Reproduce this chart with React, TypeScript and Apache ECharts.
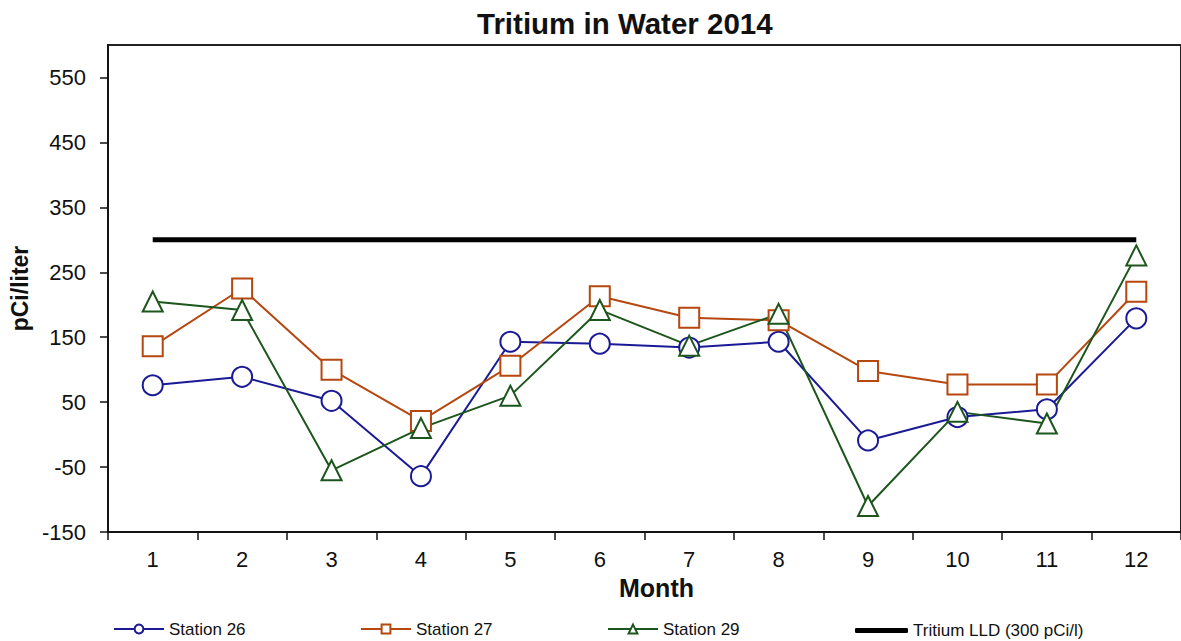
import React, { useEffect, useRef } from "react";
import * as echarts from "echarts";

const months = ["1", "2", "3", "4", "5", "6", "7", "8", "9", "10", "11", "12"];
const station26 = [76, 89, 52, -64, 143, 140, 134, 143, -9, 27, 39, 179];
const station27 = [136, 225, 100, 21, 106, 213, 180, 176, 98, 77, 77, 220];
const station29 = [205, 192, -55, 10, 60, 192, 137, 186, -110, 35, 17, 276];
const lld = [300, 300, 300, 300, 300, 300, 300, 300, 300, 300, 300, 300];
const yTicks = [-150, -50, 50, 150, 250, 350, 450, 550];

const FONT = "'Liberation Sans', Arial, sans-serif";
const C26 = "#1a1a96";
const C27 = "#b5470f";
const C29 = "#1c561c";

export default function App() {
  const ref = useRef<HTMLDivElement>(null);
  useEffect(() => {
    if (!ref.current) return;
    const chart = echarts.init(ref.current, null, { renderer: "svg" });
    const legendBase = (name: string, left: number) => ({
      data: [name],
      left,
      top: 618.5,
      orient: "horizontal",
      itemWidth: 50,
      itemHeight: 11,
      padding: 2,
      textStyle: { fontFamily: FONT, fontSize: 17, color: "#111" },
      selectedMode: false,
    });
    const markerSeries = (name: string, data: number[], color: string, symbol: string) => ({
      name,
      type: "line",
      data,
      symbol,
      symbolSize: 20,
      showAllSymbol: true,
      lineStyle: { color, width: 2 },
      itemStyle: { color: "#fff", borderColor: color, borderWidth: 2 },
      z: 3,
    });
    chart.setOption({
      animation: false,
      backgroundColor: "#fff",
      title: {
        text: "Tritium in Water 2014",
        left: 472,
        top: 3,
        textStyle: { fontFamily: FONT, fontSize: 29.5, fontWeight: "bold", color: "#111" },
      },
      legend: [
        legendBase("Station 26", 111),
        legendBase("Station 27", 358),
        legendBase("Station 29", 605),
        {
          data: [{ name: "Tritium LLD (300 pCi/l)", icon: "roundRect" }],
          left: 853,
          top: 620,
          padding: 2,
          itemWidth: 53,
          itemHeight: 5,
          textStyle: { fontFamily: FONT, fontSize: 17, color: "#111" },
          selectedMode: false,
        },
      ],
      grid: {
        left: 108,
        top: 45,
        width: 1080,
        height: 487,
        show: true,
        borderColor: "#222",
        borderWidth: 2,
        backgroundColor: "transparent",
      },
      xAxis: {
        type: "category",
        data: months,
        boundaryGap: true,
        name: "Month",
        nameLocation: "middle",
        nameGap: 43,
        nameTextStyle: { fontFamily: FONT, fontSize: 25, fontWeight: "bold", color: "#111", padding: [0, 0, 0, 24] },
        axisLine: { onZero: false, lineStyle: { color: "#111", width: 1.5 } },
        axisTick: { show: true, length: 8, alignWithLabel: false, lineStyle: { color: "#111", width: 1.5 } },
        axisLabel: { fontFamily: FONT, fontSize: 22, color: "#111", margin: 16 },
        splitLine: { show: false },
      },
      yAxis: {
        type: "value",
        min: -150,
        max: 600,
        interval: 100,
        name: "pCi/liter",
        nameLocation: "middle",
        nameGap: 72,
        nameTextStyle: { fontFamily: FONT, fontSize: 23, fontWeight: "bold", color: "#111" },
        axisLine: { show: true, lineStyle: { color: "#111", width: 1.5 } },
        axisTick: { show: true, length: 8, customValues: yTicks, lineStyle: { color: "#111", width: 1.5 } },
        axisLabel: { fontFamily: FONT, fontSize: 22, color: "#111", margin: 22, customValues: yTicks },
        splitLine: { show: false },
      },
      series: [
        markerSeries("Station 26", station26, C26, "circle"),
        markerSeries("Station 27", station27, C27, "rect"),
        markerSeries("Station 29", station29, C29, "triangle"),
        {
          name: "Tritium LLD (300 pCi/l)",
          type: "line",
          data: lld,
          symbol: "none",
          lineStyle: { color: "#000", width: 5 },
          itemStyle: { color: "#000" },
          z: 2,
        },
      ],
    });
    return () => chart.dispose();
  }, []);
  return <div ref={ref} style={{ width: 1181, height: 641, position: "absolute", left: 0, top: 0 }} />;
}
